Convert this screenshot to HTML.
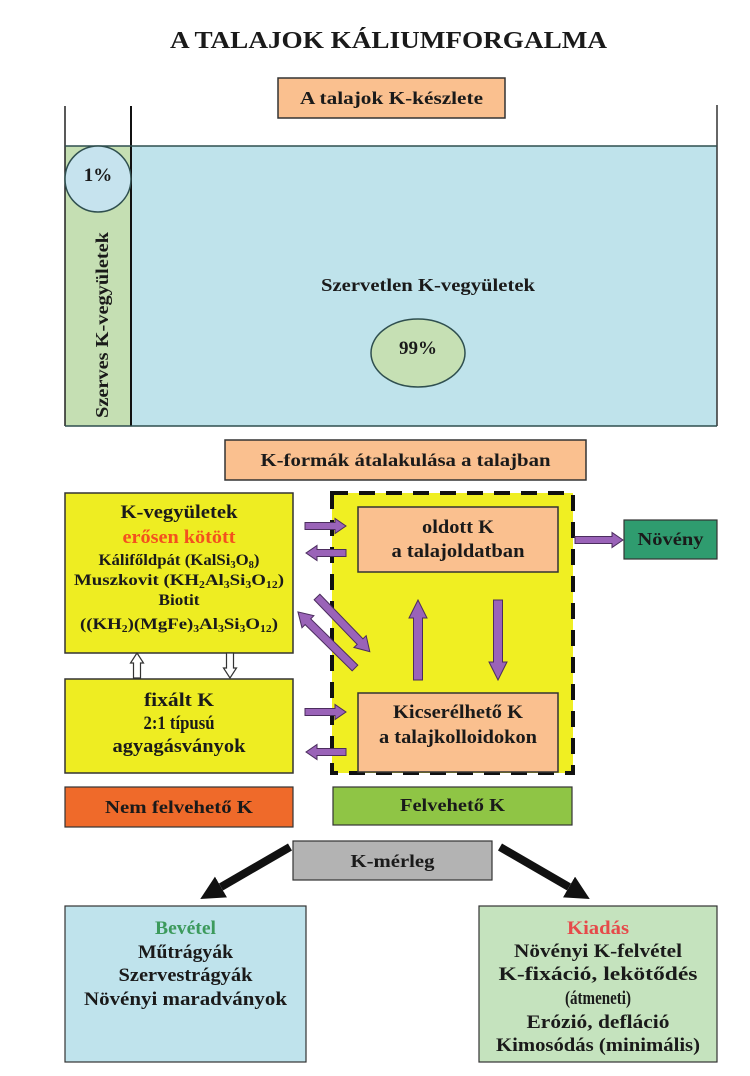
<!DOCTYPE html>
<html><head><meta charset="utf-8">
<style>
html,body{margin:0;padding:0;background:#fff;}
svg{display:block;}
text{font-family:"Liberation Serif","Times New Roman",serif;font-weight:bold;fill:#1a1a1a;}
</style></head>
<body>
<svg width="750" height="1076" viewBox="0 0 750 1076" xmlns="http://www.w3.org/2000/svg">
<defs>
<marker id="blk" markerUnits="userSpaceOnUse" markerWidth="24" markerHeight="24" refX="0" refY="12" orient="auto">
<path d="M0,0 L24,12 L0,24 Z" fill="#111"/>
</marker>
</defs>

<!-- Title -->
<text x="388.5" y="48" font-size="24" text-anchor="middle" textLength="437" lengthAdjust="spacingAndGlyphs">A TALAJOK KÁLIUMFORGALMA</text>

<!-- K-keszlet box -->
<rect x="278" y="78" width="227" height="40" fill="#fac08f" stroke="#333" stroke-width="1.5"/>
<text x="391.5" y="104" font-size="18" text-anchor="middle" textLength="183" lengthAdjust="spacingAndGlyphs">A talajok K-készlete</text>

<!-- Top container -->
<rect x="131" y="146" width="586" height="280" fill="#bfe3eb"/>
<rect x="65" y="146" width="66" height="280" fill="#c5dfb3"/>
<line x1="65" y1="106" x2="65" y2="426" stroke="#222" stroke-width="1.5"/>
<line x1="131" y1="106" x2="131" y2="426" stroke="#111" stroke-width="2"/>
<line x1="717" y1="105" x2="717" y2="426" stroke="#333" stroke-width="1.5"/>
<line x1="65" y1="146" x2="717" y2="146" stroke="#2f4f4f" stroke-width="1.5"/>
<line x1="65" y1="426" x2="717" y2="426" stroke="#2f4f4f" stroke-width="1.5"/>

<ellipse cx="98" cy="179" rx="33" ry="33" fill="#c6e3ee" stroke="#2f4f4f" stroke-width="1.5"/>
<text x="98" y="181" font-size="19" text-anchor="middle">1%</text>

<text transform="translate(108,325) rotate(-90)" x="0" y="0" font-size="18" text-anchor="middle" textLength="186" lengthAdjust="spacingAndGlyphs">Szerves K-vegyületek</text>

<text x="428" y="291" font-size="18" text-anchor="middle" textLength="214" lengthAdjust="spacingAndGlyphs">Szervetlen K-vegyületek</text>

<ellipse cx="418" cy="353" rx="47" ry="34" fill="#c6e0b4" stroke="#2f4f4f" stroke-width="1.5"/>
<text x="418" y="354" font-size="19" text-anchor="middle">99%</text>

<!-- K-formak box -->
<rect x="225" y="440" width="361" height="40" fill="#fac08f" stroke="#333" stroke-width="1.5"/>
<text x="405.5" y="466" font-size="18" text-anchor="middle" textLength="290" lengthAdjust="spacingAndGlyphs">K-formák átalakulása a talajban</text>

<!-- Left yellow boxes -->
<rect x="65" y="493" width="228" height="160" fill="#eeed22" stroke="#333" stroke-width="1.5"/>
<text x="179" y="518" font-size="19" text-anchor="middle" textLength="117" lengthAdjust="spacingAndGlyphs">K-vegyületek</text>
<text x="179" y="543" font-size="19" text-anchor="middle" textLength="113" lengthAdjust="spacingAndGlyphs" style="fill:#f4511e">erősen kötött</text>
<text x="179" y="565" font-size="16" text-anchor="middle" textLength="161" lengthAdjust="spacingAndGlyphs">Kálifőldpát (KalSi<tspan font-size="10" dy="3">3</tspan><tspan dy="-3">O</tspan><tspan font-size="10" dy="3">8</tspan><tspan dy="-3">)</tspan></text>
<text x="179" y="585" font-size="16" text-anchor="middle" textLength="210" lengthAdjust="spacingAndGlyphs">Muszkovit (KH<tspan font-size="10" dy="3">2</tspan><tspan dy="-3">Al</tspan><tspan font-size="10" dy="3">3</tspan><tspan dy="-3">Si</tspan><tspan font-size="10" dy="3">3</tspan><tspan dy="-3">O</tspan><tspan font-size="10" dy="3">12</tspan><tspan dy="-3">)</tspan></text>
<text x="179" y="605" font-size="16" text-anchor="middle" textLength="41" lengthAdjust="spacingAndGlyphs">Biotit</text>
<text x="179" y="629" font-size="16" text-anchor="middle" textLength="198" lengthAdjust="spacingAndGlyphs">((KH<tspan font-size="10" dy="3">2</tspan><tspan dy="-3">)(MgFe)</tspan><tspan font-size="10" dy="3">3</tspan><tspan dy="-3">Al</tspan><tspan font-size="10" dy="3">3</tspan><tspan dy="-3">Si</tspan><tspan font-size="10" dy="3">3</tspan><tspan dy="-3">O</tspan><tspan font-size="10" dy="3">12</tspan><tspan dy="-3">)</tspan></text>

<rect x="65" y="679" width="228" height="94" fill="#eeed22" stroke="#333" stroke-width="1.5"/>
<text x="179" y="706" font-size="19" text-anchor="middle" textLength="70" lengthAdjust="spacingAndGlyphs">fixált K</text>
<text x="179" y="729" font-size="19" text-anchor="middle" textLength="71" lengthAdjust="spacingAndGlyphs">2:1 típusú</text>
<text x="179" y="752" font-size="19" text-anchor="middle" textLength="133" lengthAdjust="spacingAndGlyphs">agyagásványok</text>

<!-- hollow arrows -->
<path transform="translate(137,678) rotate(-90)" d="M0,-3.5 L15,-3.5 L15,-6.5 L25,0 L15,6.5 L15,3.5 L0,3.5 Z" fill="#fff" stroke="#333" stroke-width="1.2"/>
<path transform="translate(230,653) rotate(90)" d="M0,-3.5 L15,-3.5 L15,-6.5 L25,0 L15,6.5 L15,3.5 L0,3.5 Z" fill="#fff" stroke="#333" stroke-width="1.2"/>

<rect x="65" y="787" width="228" height="40" fill="#ef6a2a" stroke="#333" stroke-width="1.2"/>
<text x="179" y="813" font-size="18" text-anchor="middle" textLength="148" lengthAdjust="spacingAndGlyphs">Nem felvehető K</text>

<!-- Dashed yellow region -->
<rect x="332" y="493" width="241" height="280" fill="#f0ef22"/>
<rect x="332" y="493" width="241" height="280" fill="none" stroke="#111" stroke-width="4" stroke-dasharray="16 11"/>

<rect x="358" y="507" width="200" height="65" fill="#fac08f" stroke="#333" stroke-width="1.5"/>
<text x="458" y="533" font-size="19" text-anchor="middle" textLength="72" lengthAdjust="spacingAndGlyphs">oldott K</text>
<text x="458" y="557" font-size="19" text-anchor="middle" textLength="133" lengthAdjust="spacingAndGlyphs">a talajoldatban</text>

<rect x="358" y="693" width="200" height="79" fill="#fac08f" stroke="#333" stroke-width="1.5"/>
<text x="458" y="718" font-size="19" text-anchor="middle" textLength="130" lengthAdjust="spacingAndGlyphs">Kicserélhető K</text>
<text x="458" y="743" font-size="19" text-anchor="middle" textLength="158" lengthAdjust="spacingAndGlyphs">a talajkolloidokon</text>

<rect x="333" y="787" width="239" height="38" fill="#8fc545" stroke="#333" stroke-width="1.2"/>
<text x="452.5" y="811" font-size="18" text-anchor="middle" textLength="105" lengthAdjust="spacingAndGlyphs">Felvehető K</text>

<!-- Purple arrows -->
<g fill="#9a63b8" stroke="#4b2d5e" stroke-width="1">
<path transform="translate(305,526)" d="M0,-3.5 L30,-3.5 L30,-7.5 L41,0 L30,7.5 L30,3.5 L0,3.5 Z"/>
<path transform="translate(346,553) rotate(180)" d="M0,-3.5 L29,-3.5 L29,-7.5 L40,0 L29,7.5 L29,3.5 L0,3.5 Z"/>
<path transform="translate(305,712)" d="M0,-3.5 L30,-3.5 L30,-7.5 L41,0 L30,7.5 L30,3.5 L0,3.5 Z"/>
<path transform="translate(346,752) rotate(180)" d="M0,-3.5 L29,-3.5 L29,-7.5 L40,0 L29,7.5 L29,3.5 L0,3.5 Z"/>
<path transform="translate(317,597) rotate(46)" d="M0,-4 L62,-4 L62,-8.5 L76,0 L62,8.5 L62,4 L0,4 Z"/>
<path transform="translate(355,668) rotate(-135.5)" d="M0,-4 L66,-4 L66,-8.5 L80,0 L66,8.5 L66,4 L0,4 Z"/>
<path transform="translate(418,680) rotate(-90)" d="M0,-4.5 L62,-4.5 L62,-9 L80,0 L62,9 L62,4.5 L0,4.5 Z"/>
<path transform="translate(498,600) rotate(90)" d="M0,-4.5 L62,-4.5 L62,-9 L80,0 L62,9 L62,4.5 L0,4.5 Z"/>
<path transform="translate(575,540)" d="M0,-3.5 L37,-3.5 L37,-7.5 L48,0 L37,7.5 L37,3.5 L0,3.5 Z"/>
</g>

<!-- Noveny -->
<rect x="624" y="520" width="93" height="39" fill="#2f9c6f" stroke="#333" stroke-width="1.2"/>
<text x="670.5" y="545" font-size="18" text-anchor="middle" textLength="66" lengthAdjust="spacingAndGlyphs">Növény</text>

<!-- K-merleg -->
<rect x="293" y="841" width="199" height="39" fill="#b3b3b3" stroke="#333" stroke-width="1.2"/>
<text x="392.5" y="867" font-size="18" text-anchor="middle" textLength="84" lengthAdjust="spacingAndGlyphs">K-mérleg</text>

<line x1="290" y1="847" x2="221" y2="887" stroke="#111" stroke-width="8" marker-end="url(#blk)"/>
<line x1="500" y1="847" x2="569" y2="887" stroke="#111" stroke-width="8" marker-end="url(#blk)"/>

<!-- Bevetel -->
<rect x="65" y="906" width="241" height="156" fill="#bfe3ec" stroke="#333" stroke-width="1.2"/>
<text x="185.5" y="934" font-size="19" text-anchor="middle" textLength="61" lengthAdjust="spacingAndGlyphs" style="fill:#3c9a5c">Bevétel</text>
<text x="185.5" y="958" font-size="19" text-anchor="middle" textLength="95" lengthAdjust="spacingAndGlyphs">Műtrágyák</text>
<text x="185.5" y="981" font-size="19" text-anchor="middle" textLength="134" lengthAdjust="spacingAndGlyphs">Szervestrágyák</text>
<text x="185.5" y="1005" font-size="19" text-anchor="middle" textLength="203" lengthAdjust="spacingAndGlyphs">Növényi maradványok</text>

<!-- Kiadas -->
<rect x="479" y="906" width="238" height="156" fill="#c5e3be" stroke="#333" stroke-width="1.2"/>
<text x="598" y="934" font-size="19" text-anchor="middle" textLength="62" lengthAdjust="spacingAndGlyphs" style="fill:#e64a4a">Kiadás</text>
<text x="598" y="957" font-size="19" text-anchor="middle" textLength="168" lengthAdjust="spacingAndGlyphs">Növényi K-felvétel</text>
<text x="598" y="980" font-size="19" text-anchor="middle" textLength="199" lengthAdjust="spacingAndGlyphs">K-fixáció, lekötődés</text>
<text x="598" y="1004" font-size="19" text-anchor="middle" textLength="66" lengthAdjust="spacingAndGlyphs">(átmeneti)</text>
<text x="598" y="1028" font-size="19" text-anchor="middle" textLength="143" lengthAdjust="spacingAndGlyphs">Erózió, defláció</text>
<text x="598" y="1051" font-size="19" text-anchor="middle" textLength="204" lengthAdjust="spacingAndGlyphs">Kimosódás (minimális)</text>
</svg>
</body></html>
